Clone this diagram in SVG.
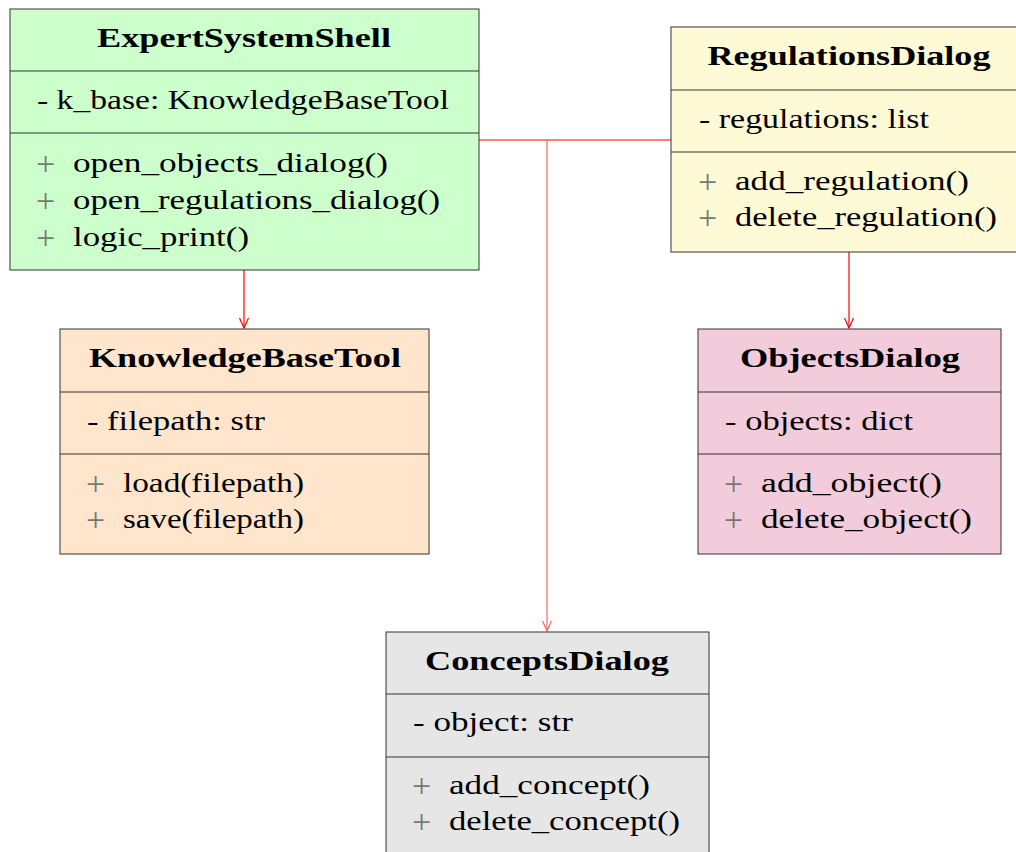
<svg xmlns="http://www.w3.org/2000/svg" width="1016" height="852" viewBox="0 0 1016 852">
<style>
.box{stroke:#333;stroke-width:1}
.div{stroke:#333;stroke-width:1}
.t{font-family:"Liberation Serif","DejaVu Serif",serif;font-size:28px;fill:#000}
.b{font-weight:bold;text-anchor:middle;font-size:28px}
.p{fill:#777;font-size:34px}
.c{fill:none;stroke:#ff0000;stroke-width:1.2}
.cl{fill:none;stroke:#ff6666;stroke-width:1.2}
</style>
<defs>
<marker id="ah" viewBox="0 0 12 12" refX="11" refY="6" markerWidth="12" markerHeight="12" markerUnits="userSpaceOnUse" orient="auto">
<path d="M1,1.5 L11,6 L1,10.5" fill="none" stroke="#ff0000" stroke-width="1.2"/>
</marker>
<marker id="ahl" viewBox="0 0 12 12" refX="11" refY="6" markerWidth="12" markerHeight="12" markerUnits="userSpaceOnUse" orient="auto">
<path d="M1,1.5 L11,6 L1,10.5" fill="none" stroke="#ff6666" stroke-width="1.2"/>
</marker>
</defs>
<rect width="1016" height="852" fill="#fff"/>
<g id="connectors">
<line class="c" x1="244" y1="270" x2="244" y2="328" marker-end="url(#ah)"/>
<line class="c" x1="849" y1="252" x2="849" y2="328" marker-end="url(#ah)"/>
<line class="c" x1="479" y1="140" x2="671" y2="140"/>
<line class="cl" x1="547" y1="140" x2="547" y2="631" marker-end="url(#ahl)"/>
</g>
<g id="ExpertSystemShell">
<rect class="box" x="10" y="9" width="469" height="261" fill="#ccffcc"/>
<line class="div" x1="10" y1="71" x2="479" y2="71"/>
<line class="div" x1="10" y1="133" x2="479" y2="133"/>
<text class="t b" x="244" y="47" textLength="294" lengthAdjust="spacingAndGlyphs">ExpertSystemShell</text>
<text class="t" x="37" y="109" textLength="412" lengthAdjust="spacingAndGlyphs">- k_base: KnowledgeBaseTool</text>
<text class="t p" x="36" y="175">+</text>
<text class="t" x="73" y="172" textLength="315" lengthAdjust="spacingAndGlyphs">open_objects_dialog()</text>
<text class="t p" x="36" y="212">+</text>
<text class="t" x="73" y="209" textLength="367" lengthAdjust="spacingAndGlyphs">open_regulations_dialog()</text>
<text class="t p" x="36" y="249">+</text>
<text class="t" x="73" y="246" textLength="176" lengthAdjust="spacingAndGlyphs">logic_print()</text>
</g>
<g id="RegulationsDialog">
<rect class="box" x="671" y="27" width="350" height="225" fill="#fffad6"/>
<line class="div" x1="671" y1="90" x2="1016" y2="90"/>
<line class="div" x1="671" y1="152" x2="1016" y2="152"/>
<text class="t b" x="849" y="65" textLength="283" lengthAdjust="spacingAndGlyphs">RegulationsDialog</text>
<text class="t" x="699" y="128" textLength="230" lengthAdjust="spacingAndGlyphs">- regulations: list</text>
<text class="t p" x="698" y="193">+</text>
<text class="t" x="735" y="190" textLength="234" lengthAdjust="spacingAndGlyphs">add_regulation()</text>
<text class="t p" x="698" y="229">+</text>
<text class="t" x="735" y="226" textLength="262" lengthAdjust="spacingAndGlyphs">delete_regulation()</text>
</g>
<g id="KnowledgeBaseTool">
<rect class="box" x="60" y="329" width="369" height="225" fill="#ffe5cc"/>
<line class="div" x1="60" y1="392" x2="429" y2="392"/>
<line class="div" x1="60" y1="454" x2="429" y2="454"/>
<text class="t b" x="245" y="367" textLength="312" lengthAdjust="spacingAndGlyphs">KnowledgeBaseTool</text>
<text class="t" x="87" y="430" textLength="178" lengthAdjust="spacingAndGlyphs">- filepath: str</text>
<text class="t p" x="86" y="495">+</text>
<text class="t" x="123" y="492" textLength="181" lengthAdjust="spacingAndGlyphs">load(filepath)</text>
<text class="t p" x="86" y="531">+</text>
<text class="t" x="123" y="528" textLength="181" lengthAdjust="spacingAndGlyphs">save(filepath)</text>
</g>
<g id="ObjectsDialog">
<rect class="box" x="698" y="329" width="303" height="225" fill="#f2ccdb"/>
<line class="div" x1="698" y1="392" x2="1001" y2="392"/>
<line class="div" x1="698" y1="454" x2="1001" y2="454"/>
<text class="t b" x="850" y="367" textLength="220" lengthAdjust="spacingAndGlyphs">ObjectsDialog</text>
<text class="t" x="725" y="430" textLength="188" lengthAdjust="spacingAndGlyphs">- objects: dict</text>
<text class="t p" x="724" y="495">+</text>
<text class="t" x="761" y="492" textLength="181" lengthAdjust="spacingAndGlyphs">add_object()</text>
<text class="t p" x="724" y="531">+</text>
<text class="t" x="761" y="528" textLength="211" lengthAdjust="spacingAndGlyphs">delete_object()</text>
</g>
<g id="ConceptsDialog">
<rect class="box" x="386" y="632" width="323" height="240" fill="#e6e6e6"/>
<line class="div" x1="386" y1="694" x2="709" y2="694"/>
<line class="div" x1="386" y1="757" x2="709" y2="757"/>
<text class="t b" x="547" y="670" textLength="244" lengthAdjust="spacingAndGlyphs">ConceptsDialog</text>
<text class="t" x="413" y="731" textLength="160" lengthAdjust="spacingAndGlyphs">- object: str</text>
<text class="t p" x="412" y="797">+</text>
<text class="t" x="449" y="794" textLength="201" lengthAdjust="spacingAndGlyphs">add_concept()</text>
<text class="t p" x="412" y="833">+</text>
<text class="t" x="449" y="830" textLength="231" lengthAdjust="spacingAndGlyphs">delete_concept()</text>
</g>
</svg>
